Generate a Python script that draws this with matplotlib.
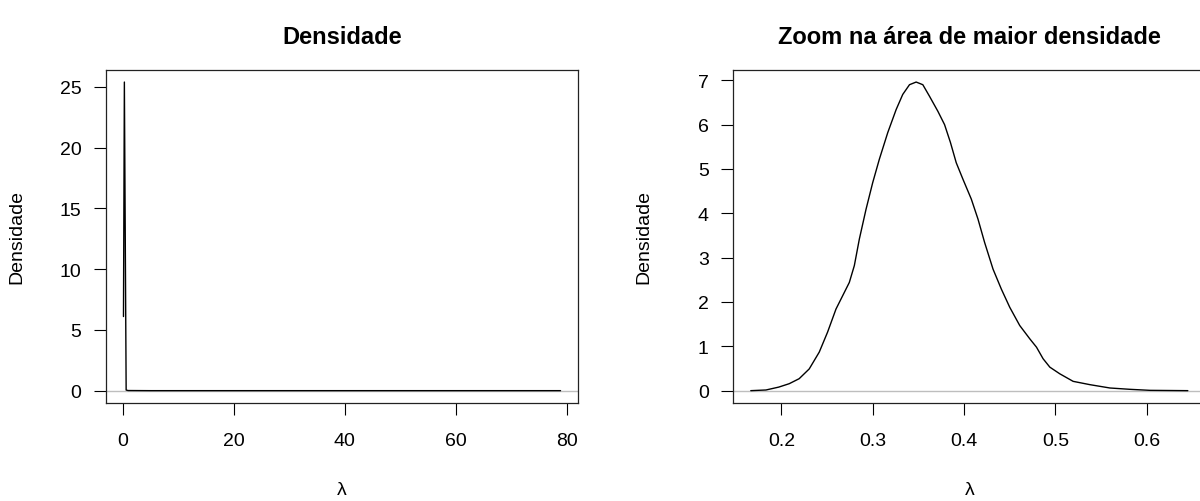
import matplotlib
matplotlib.use('Agg')
import matplotlib.pyplot as plt

plt.rcParams['font.family'] = ['Liberation Sans', 'DejaVu Sans']

# ---- data ----
full_lambda = [0.17, 0.33, 0.65, 1.0, 5.0, 78.9]
full_density = [6.1, 25.4, 0.05, 0.01, 0.0, 0.0]

zoom_lambda = [0.1664, 0.183, 0.197, 0.2085, 0.2194, 0.2304, 0.2414, 0.2505,
               0.2597, 0.267, 0.2743, 0.2798, 0.2853, 0.2926, 0.2999, 0.3072,
               0.3164, 0.3256, 0.3328, 0.3402, 0.3475, 0.3548, 0.3621, 0.3713,
               0.3786, 0.3850, 0.3914, 0.3987, 0.4079, 0.4152, 0.4225, 0.4317,
               0.4408, 0.4500, 0.4609, 0.4719, 0.4793, 0.4865, 0.4939, 0.5048,
               0.5194, 0.5378, 0.5597, 0.5817, 0.6036, 0.645]
zoom_density = [0.0, 0.015, 0.08, 0.157, 0.27, 0.49, 0.87, 1.32,
                1.84, 2.14, 2.44, 2.82, 3.42, 4.09, 4.69, 5.22,
                5.82, 6.34, 6.68, 6.90, 6.96, 6.90, 6.64, 6.30,
                6.00, 5.60, 5.14, 4.77, 4.32, 3.87, 3.34, 2.74,
                2.29, 1.88, 1.47, 1.17, 0.98, 0.72, 0.53, 0.38,
                0.21, 0.135, 0.06, 0.03, 0.007, 0.0]

left_xticks = [0, 20, 40, 60, 80]
left_yticks = [0, 5, 10, 15, 20, 25]
right_xticks = [0.2, 0.3, 0.4, 0.5, 0.6]
right_xticklabels = ['0.2', '0.3', '0.4', '0.5', '0.6']
right_yticks = [0, 1, 2, 3, 4, 5, 6, 7]

titles = ['Densidade', 'Zoom na área de maior densidade']
ylabel = 'Densidade'
xlabel = 'λ'

# ---- layout ----
W, H = 1200, 502
fig = plt.figure(figsize=(W / 100, H / 100), dpi=100)


def rect(x0, y0, x1, y1):
    return [x0 / W, 1 - y1 / H, (x1 - x0) / W, (y1 - y0) / H]


boxes = [(106, 70.7, 578, 404), (733.3, 70.7, 1205.3, 404)]
ax1 = fig.add_axes(rect(*boxes[0]))
ax2 = fig.add_axes(rect(*boxes[1]))

for ax, xs, ys in [(ax1, full_lambda, full_density), (ax2, zoom_lambda, zoom_density)]:
    ax.axhline(0, color='#BEBEBE', lw=1.0, zorder=1)
    ax.plot(xs, ys, color='black', lw=1.0, zorder=2,
            solid_joinstyle='round', solid_capstyle='round')
    ax.margins(x=0.04, y=0.04)
    for s in ax.spines.values():
        s.set_linewidth(0.9)
        s.set_color('#222222')
    ax.tick_params(direction='out', length=8.6, width=0.8, labelsize=14,
                   colors='black')
    ax.tick_params(axis='x', pad=12)
    ax.tick_params(axis='y', pad=9)

ax1.set_xticks(left_xticks)
ax1.set_yticks(left_yticks)
ax2.set_xticks(right_xticks)
ax2.set_xticklabels(right_xticklabels)
ax2.set_yticks(right_yticks)

for (x0, y0, x1, y1), t in zip(boxes, titles):
    cx = (x0 + x1) / 2
    fig.text(cx / W, 1 - 37 / H, t, ha='center', va='center',
             fontsize=17, fontweight='bold')
    fig.text(cx / W, 1 - 495 / H, xlabel, ha='center', va='baseline',
             fontsize=14)
    fig.text((x0 - 89) / W, 1 - ((y0 + y1) / 2) / H, ylabel, ha='center',
             va='center', rotation=90, fontsize=14)

fig.savefig('out.png', dpi=100)
